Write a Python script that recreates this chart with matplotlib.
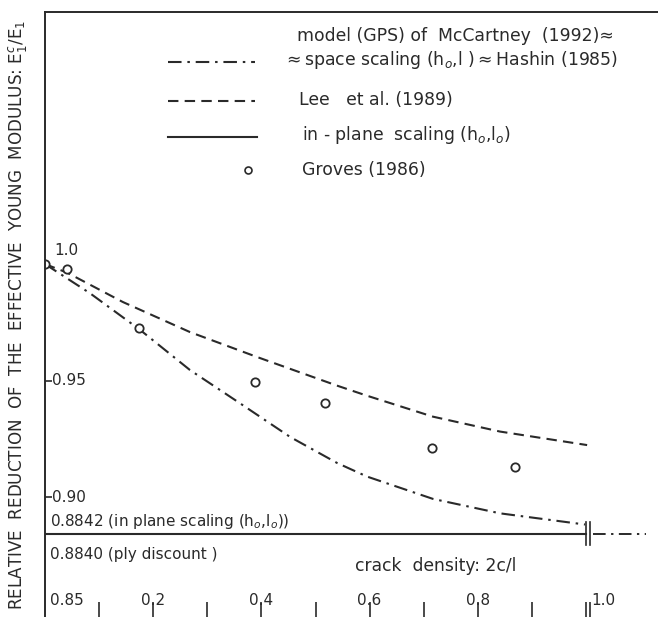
import matplotlib
matplotlib.use("Agg")
import matplotlib.pyplot as plt

# Data
lee_x = [0.0, 0.041, 0.144, 0.268, 0.392, 0.540, 0.595, 0.717, 0.841, 1.002]
lee_y = [1.0, 0.9963, 0.9837, 0.9708, 0.9601, 0.9478, 0.9435, 0.9345, 0.9281, 0.9223]
mccartney_x = [0.0, 0.083, 0.176, 0.268, 0.360, 0.453, 0.540, 0.595, 0.717, 0.841, 0.998]
mccartney_y = [1.0, 0.9875, 0.9717, 0.9545, 0.9403, 0.9258, 0.9146, 0.9088, 0.8992, 0.8930, 0.8882]
groves_x = [0.0, 0.041, 0.174, 0.388, 0.518, 0.715, 0.869]
groves_y = [1.0, 0.998, 0.9725, 0.9494, 0.9403, 0.921, 0.9129]
in_plane_level = 0.8842
ply_discount = 0.8840
x_end = 1.0
x_ticks = [0.1, 0.2, 0.3, 0.4, 0.5, 0.6, 0.7, 0.8, 0.9, 1.0]
x_tick_labels = ["0.2", "0.4", "0.6", "0.8"]
x_label_pos = [0.2, 0.4, 0.6, 0.8]

ink = "#2a2a2a"
plt.rcParams['font.family'] = ['DejaVu Sans']
plt.rcParams['mathtext.fontset'] = 'dejavusans'

fig = plt.figure(figsize=(6.58, 6.17), dpi=100)
ax = fig.add_axes([45 / 658, 0.0, 613 / 658, 605 / 617])
ax.set_xlim(0, 1.133)
ax.set_ylim(0.8485, 1.1082)

for side in ["right", "bottom"]:
    ax.spines[side].set_visible(False)
for side in ["left", "top"]:
    ax.spines[side].set_linewidth(1.4)
    ax.spines[side].set_color(ink)

dashdot = (0, (6.5, 2.8, 1.2, 2.8))
dashed = (0, (5, 3))

# curves
ax.plot(mccartney_x, mccartney_y, color=ink, lw=1.5, linestyle=dashdot)
ax.plot(lee_x, lee_y, color=ink, lw=1.5, linestyle=dashed)
ax.plot([0, x_end], [in_plane_level, in_plane_level], color=ink, lw=1.5)
ax.plot(groves_x, groves_y, 'o', mfc='white', mec=ink, mew=1.3, ms=6, ls='none')

# break marks and the limit going on
for bx in [x_end, x_end + 0.008]:
    ax.plot([bx, bx], [in_plane_level - 0.005, in_plane_level + 0.005], color=ink, lw=1.2)
ax.plot([x_end + 0.012, 1.111], [in_plane_level, in_plane_level], color=ink, lw=1.4, linestyle=dashdot)

# x ticks from the bottom, labels inside
ax.set_xticks(x_ticks + [x_end + 0.008])
ax.set_xticklabels([])
ax.tick_params(axis='x', direction='in', length=11, width=1.2, color=ink)
ax.set_yticks([0.95, 0.90])
ax.set_yticklabels([])
ax.tick_params(axis='y', direction='in', length=5, width=1.2, color=ink)

bx_tr = ax.get_xaxis_transform()
for xp, lab in zip(x_label_pos, x_tick_labels):
    ax.text(xp, 0.028, lab, transform=bx_tr, ha='center', va='center', fontsize=11, color=ink)
ax.text(1.01, 0.028, "1.0", transform=bx_tr, ha='left', va='center', fontsize=11, color=ink)

ax.text(0.013, 0.95, "0.95", ha='left', va='center', fontsize=11, color=ink)
ax.text(0.013, 0.90, "0.90", ha='left', va='center', fontsize=11, color=ink)
ax.text(0.018, 1.006, "1.0", ha='left', va='center', fontsize=11, color=ink)
ax.text(0.010, 0.028, "0.85", transform=bx_tr, ha='left', va='center', fontsize=11, color=ink)
ax.text(0.010, in_plane_level + 0.0055, r"0.8842 (in plane scaling (h$_o$,l$_o$))",
        ha='left', va='center', fontsize=11, color=ink)
ax.text(0.010, ply_discount - 0.0085, "0.8840 (ply discount )",
        ha='left', va='center', fontsize=11, color=ink)
ax.text(0.573, ply_discount - 0.0135, "crack  density: 2c/l",
        ha='left', va='center', fontsize=12.3, color=ink)

# legend drawn by hand
tr = ax.transAxes
ax.plot([0.200, 0.343], [0.9174, 0.9174], transform=tr, color=ink, lw=1.5, linestyle=dashdot)
ax.plot([0.200, 0.343], [0.8529, 0.8529], transform=tr, color=ink, lw=1.5, linestyle=dashed)
ax.plot([0.200, 0.346], [0.7934, 0.7934], transform=tr, color=ink, lw=1.5)
ax.plot([0.331], [0.7388], 'o', transform=tr, mfc='white', mec=ink, mew=1.2, ms=5)
legend_fs = 12.4
ax.text(0.411, 0.9603, "model (GPS) of  McCartney  (1992)\u2248", transform=tr,
        ha='left', va='center', fontsize=legend_fs, color=ink)
ax.text(0.388, 0.9207, r"$\approx$space scaling (h$_o$,l )$\approx$Hashin (1985)", transform=tr,
        ha='left', va='center', fontsize=legend_fs, color=ink)
ax.text(0.414, 0.8545, "Lee   et al. (1989)", transform=tr,
        ha='left', va='center', fontsize=legend_fs, color=ink)
ax.text(0.419, 0.7967, r"in - plane  scaling (h$_o$,l$_o$)", transform=tr,
        ha='left', va='center', fontsize=legend_fs, color=ink)
ax.text(0.419, 0.7388, "Groves (1986)", transform=tr,
        ha='left', va='center', fontsize=legend_fs, color=ink)

fig.text(0.027, 0.489, r"RELATIVE  REDUCTION  OF  THE  EFFECTIVE  YOUNG  MODULUS: E$_1^c$/E$_1$",
         rotation=90, ha='center', va='center', fontsize=12.1, color=ink)

plt.savefig("out.png", dpi=100)
